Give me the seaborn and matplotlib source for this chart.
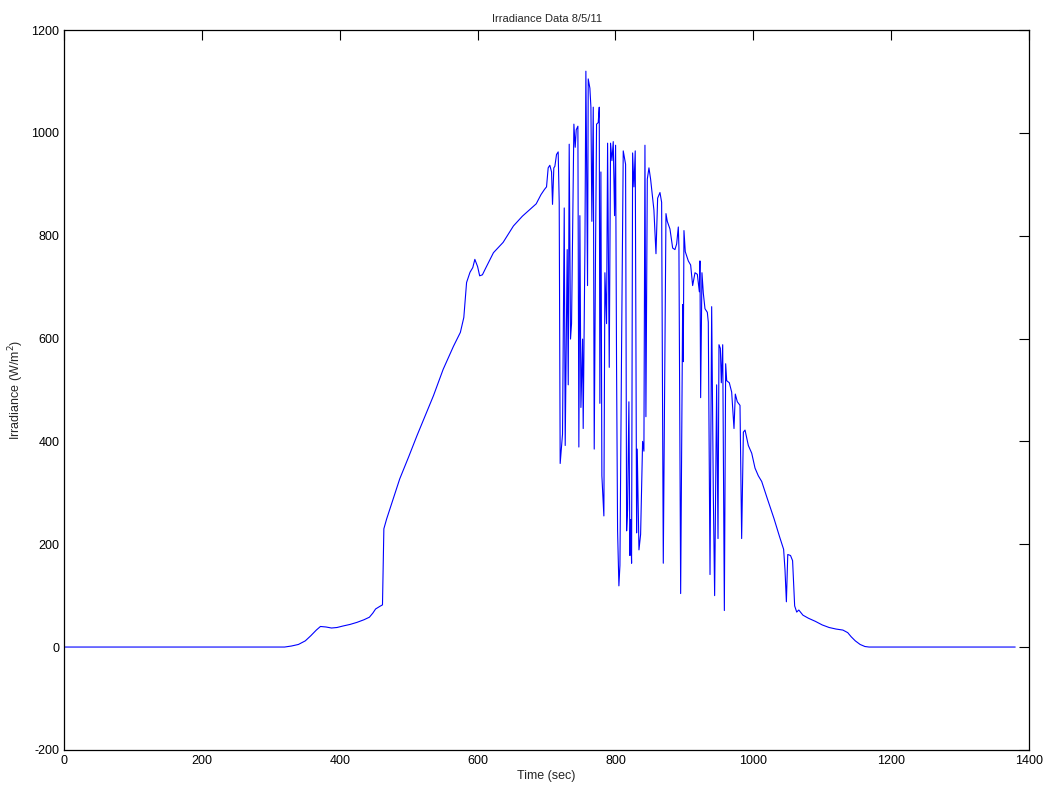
import matplotlib
matplotlib.use("Agg")
import matplotlib.pyplot as plt
import seaborn as sns
import pandas as pd

# values (time in sec, irradiance in W/m^2)
time_rise = [0, 320, 330, 340, 350, 358, 366, 372, 380, 388, 396, 405, 415, 425, 435,
             443, 448, 452, 458, 462, 464, 468, 478, 487, 500, 512, 524, 536, 550, 565,
             575, 580, 584, 589, 593, 596, 600, 603, 607, 611, 623, 637, 652, 665, 675,
             685, 692, 697]
irr_rise = [0, 0, 2, 5, 12, 22, 33, 40, 39, 37, 38, 41, 44, 48, 53,
            58, 66, 74, 79, 82, 230, 249, 290, 327, 370, 411, 450, 489, 540, 585,
            612, 641, 709, 729, 738, 754, 740, 722, 724, 735, 767, 787, 819, 838, 850,
            862, 880, 890]

time_cloud = [700.0, 702.4, 704.8, 707.3, 708.7, 710.6, 712.1, 714.5, 716.9, 718.4,
              719.8, 723.2, 725.7, 727.1, 730.0, 731.5, 732.9, 734.8, 736.3, 739.7,
              741.6, 743.1, 745.5, 746.9, 748.4, 749.9, 752.3, 753.2, 755.7, 757.1,
              759.5, 760.5, 762.9, 764.4, 765.8, 767.8, 769.2, 771.1, 772.6, 775.0,
              776.5, 777.4, 778.9, 780.3, 783.2, 784.7, 787.1, 788.6, 791.0, 792.9,
              794.9, 796.8, 798.7, 800.2, 801.6, 803.1, 805.0, 806.5, 808.9, 811.3,
              814.7, 816.2, 817.6, 819.5, 821.0, 822.0, 823.4, 824.9, 826.8, 828.7,
              830.7, 831.6, 834.1, 836.5, 839.4, 841.3, 842.8, 844.2, 846.2, 848.6,
              851.0, 853.9, 855.8, 858.8, 861.2, 864.6, 867.0, 869.4, 873.3, 875.2,
              879.1, 883.0, 886.3, 888.8, 891.2, 892.1, 894.6, 897.5, 898.4, 899.4,
              901.3, 905.7, 909.1, 912.0, 915.4, 918.8, 921.7, 922.6, 923.6, 925.5,
              927.5, 929.9, 933.3, 934.7, 937.2, 939.6, 942.0, 943.9, 946.8, 948.8,
              950.2, 952.2, 953.6, 955.6, 958.0, 959.9, 961.4, 965.2, 968.6, 972.0,
              973.9, 976.8, 980.7, 983.1, 985.6, 988.0, 992.8, 997.7, 1002.5, 1007.3,
              1012.2]
irr_cloud = [895, 932, 937, 924, 861, 932, 935, 958, 963, 865,
             357, 414, 854, 392, 773, 510, 978, 599, 629, 1017,
             972, 1006, 1013, 389, 839, 466, 599, 425, 776, 1120,
             703, 1105, 1087, 1050, 828, 1050, 385, 769, 1017, 1020,
             1050, 474, 924, 333, 255, 728, 629, 980, 544, 980,
             946, 983, 839, 976, 547, 226, 119, 159, 584, 965,
             939, 226, 267, 477, 178, 248, 163, 961, 895, 965,
             222, 385, 189, 219, 400, 381, 976, 448, 910, 932,
             910, 873, 850, 765, 873, 884, 865, 163, 843, 828,
             813, 776, 773, 784, 817, 776, 104, 666, 555, 810,
             769, 751, 743, 703, 728, 725, 691, 751, 485, 728,
             688, 658, 651, 632, 141, 662, 296, 100, 510, 211,
             588, 581, 514, 588, 71, 551, 518, 514, 496, 425,
             492, 477, 470, 211, 418, 422, 392, 377, 348, 333,
             322]

time_fall = [1020, 1030, 1038, 1044, 1046, 1048, 1050, 1054, 1057, 1060, 1063, 1066,
             1072, 1080, 1090, 1100, 1110, 1120, 1130, 1137, 1142, 1148, 1155, 1162,
             1168, 1380]
irr_fall = [290, 250, 215, 190, 150, 88, 180, 178, 168, 80, 68, 72,
            62, 56, 50, 43, 38, 35, 33, 28, 20, 12, 5, 1,
            0, 0]

df = pd.DataFrame({
    "time": time_rise + time_cloud + time_fall,
    "irradiance": irr_rise + irr_cloud + irr_fall,
})

sns.set_style("white")
plt.rcParams["font.family"] = ["Liberation Sans", "DejaVu Sans"]
plt.rcParams["axes.unicode_minus"] = False

fig = plt.figure(figsize=(10.5, 7.91), dpi=100)
ax = fig.add_axes([0.061, 0.052, 0.919, 0.910])

sns.lineplot(data=df, x="time", y="irradiance", color="#0000ff",
             linewidth=0.8, estimator=None, sort=False, ax=ax)

ax.set_xlim(0, 1400)
ax.set_ylim(-200, 1200)
ax.set_xticks(range(0, 1401, 200))
ax.set_yticks(range(-200, 1201, 200))
ax.tick_params(direction="in", length=7, width=0.8, labelsize=9,
               top=True, right=True, colors="black")
for s in ax.spines.values():
    s.set_color("black")
    s.set_linewidth(0.9)

ax.set_title("Irradiance Data 8/5/11", fontsize=8, pad=6)
ax.set_xlabel("Time (sec)", fontsize=9, labelpad=2)
ax.set_ylabel("Irradiance (W/m$^2$)", fontsize=9, labelpad=4)

fig.savefig("out.png", dpi=100)
